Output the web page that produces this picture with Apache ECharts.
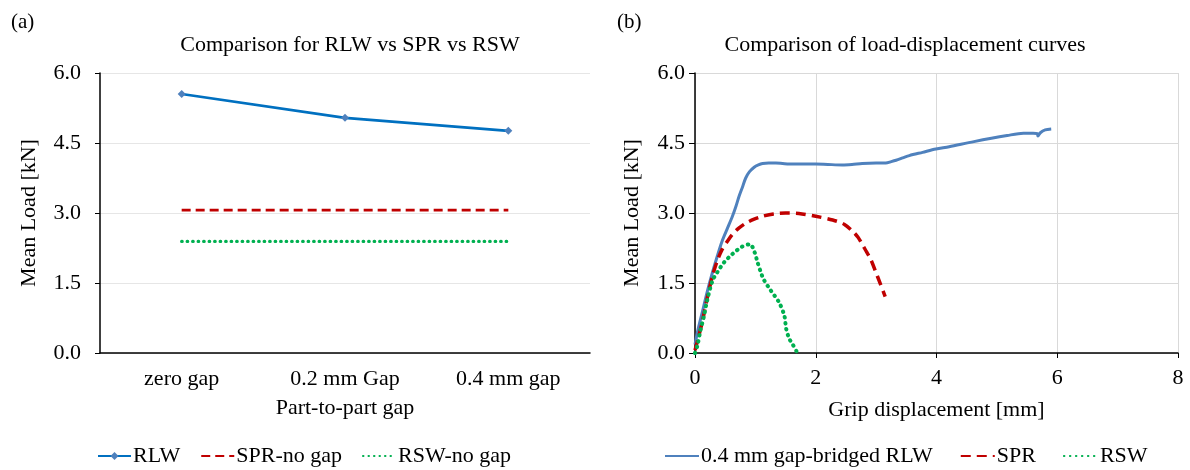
<!DOCTYPE html>
<html>
<head>
<meta charset="utf-8">
<script src="https://cdn.jsdelivr.net/npm/echarts@6/dist/echarts.min.js"></script>
<style>
html,body{margin:0;padding:0;background:#fff;}
#main{width:1190px;height:470px;}
</style>
</head>
<body>
<div id="main"></div>
<script>
// (a) 间隙对比
var gapCategories = ['zero gap', '0.2 mm Gap', '0.4 mm gap'];
var rlwMean = [5.55, 5.04, 4.76];
var sprNoGap = [3.06, 3.06, 3.06];
var rswNoGap = [2.39, 2.39, 2.39];
var loadTicks = [0, 1.5, 3.0, 4.5, 6.0];

// (b) 载荷-位移曲线
var rlwX = [0, 0.05, 0.12, 0.2, 0.29, 0.37, 0.45, 0.54, 0.62, 0.68, 0.73, 0.79, 0.84, 0.9, 0.98, 1.05, 1.12, 1.22, 1.34, 1.45, 1.56, 1.8, 2.0, 2.2, 2.44, 2.6, 2.77, 3.0, 3.16, 3.25, 3.33, 3.44, 3.55, 3.77, 3.99, 4.21, 4.62, 5.17, 5.44, 5.6, 5.67, 5.68, 5.72, 5.8, 5.9];
var rlwY = [0.18, 0.5, 0.87, 1.3, 1.73, 2.08, 2.4, 2.68, 2.93, 3.15, 3.36, 3.57, 3.75, 3.88, 3.98, 4.03, 4.06, 4.07, 4.07, 4.06, 4.05, 4.05, 4.05, 4.04, 4.03, 4.04, 4.06, 4.07, 4.07, 4.1, 4.13, 4.18, 4.23, 4.3, 4.37, 4.42, 4.53, 4.66, 4.71, 4.71, 4.7, 4.65, 4.72, 4.78, 4.8];
var sprX = [0, 0.05, 0.12, 0.2, 0.29, 0.37, 0.45, 0.54, 0.62, 0.72, 0.84, 0.98, 1.12, 1.3, 1.5, 1.72, 2.0, 2.28, 2.47, 2.61, 2.7, 2.77, 2.84, 2.91, 3.02, 3.15];
var sprY = [0.06, 0.3, 0.66, 1.16, 1.65, 1.98, 2.22, 2.4, 2.54, 2.67, 2.78, 2.87, 2.93, 2.98, 3.0, 2.99, 2.93, 2.85, 2.76, 2.61, 2.48, 2.33, 2.17, 2.01, 1.65, 1.21];
var rswX = [0, 0.04, 0.09, 0.15, 0.2, 0.29, 0.37, 0.48, 0.62, 0.78, 0.91, 0.99, 1.03, 1.09, 1.14, 1.25, 1.39, 1.48, 1.51, 1.56, 1.62, 1.68];
var rswY = [0, 0.16, 0.48, 0.8, 1.12, 1.55, 1.73, 1.94, 2.12, 2.28, 2.33, 2.15, 1.97, 1.73, 1.57, 1.35, 1.09, 0.8, 0.52, 0.31, 0.18, 0.04];
var dispTicks = [0, 2, 4, 6, 8];

function zip(xs, ys){
	var out = [];
	xs.forEach(function(x, i){ out.push([x, ys[i]]); });
	return out;
}

var font = 'Liberation Serif, Times New Roman, serif';
var fs = 22;
var txt = {fontFamily: font, color: '#000', fontSize: fs};
var noMark = {color: 'rgba(0,0,0,0)', borderColor: 'rgba(0,0,0,0)', borderWidth: 0};//图例中不画圆点

var myChart = echarts.init(document.getElementById('main'));
var option = {
	backgroundColor: '#fff',
	animation: false,
	textStyle: {fontFamily: font},
	title: [
		{text: '(a)', left: 6, top: 7, textStyle: {fontFamily: font, fontSize: 21, fontWeight: 'normal', color: '#000'}},
		{text: '(b)', left: 612, top: 7, textStyle: {fontFamily: font, fontSize: 21, fontWeight: 'normal', color: '#000'}},
		{text: 'Comparison for RLW vs SPR vs RSW', left: 345, top: 29, textAlign: 'center', textStyle: {fontFamily: font, fontSize: fs, fontWeight: 'normal', color: '#000'}},
		{text: 'Comparison of load-displacement curves', left: 900, top: 29, textAlign: 'center', textStyle: {fontFamily: font, fontSize: fs, fontWeight: 'normal', color: '#000'}}
	],
	legend: [
		{
			left: 92, top: 440, itemWidth: 33, itemHeight: 10, itemGap: 20,
			textStyle: {fontFamily: font, fontSize: fs, color: '#000', padding: [0, 0, 0, -3]},
			data: [
				{name: 'RLW'},
				{name: 'SPR-no gap', itemStyle: noMark},
				{name: 'RSW-no gap', itemStyle: noMark}
			]
		},
		{
			left: 659, top: 440, itemWidth: 34, itemHeight: 10, itemGap: 27,
			textStyle: {fontFamily: font, fontSize: fs, color: '#000', padding: [0, 0, 0, -3]},
			data: [
				{name: '0.4 mm gap-bridged RLW', itemStyle: noMark},
				{name: 'SPR', itemStyle: noMark},
				{name: 'RSW', itemStyle: noMark}
			]
		}
	],
	grid: [
		{left: 100, right: 600, top: 73, bottom: 117},
		{left: 695, right: 12, top: 73, bottom: 117}
	],
	xAxis: [
		{
			gridIndex: 0, type: 'category', data: gapCategories,
			name: 'Part-to-part gap', nameLocation: 'middle', nameGap: 44,
			nameTextStyle: txt,
			axisLine: {lineStyle: {color: '#000', width: 1.5}},
			axisTick: {alignWithLabel: true, length: 5, lineStyle: {color: '#000'}},
			axisLabel: Object.assign({margin: 15}, txt),
			splitLine: {show: false}
		},
		{
			gridIndex: 1, type: 'value', min: 0, max: 8, interval: 2,
			name: 'Grip displacement [mm]', nameLocation: 'middle', nameGap: 46,
			nameTextStyle: txt,
			axisLine: {onZero: false, lineStyle: {color: '#000', width: 1.5}},
			axisTick: {show: true, length: 5, lineStyle: {color: '#000'}},
			axisLabel: Object.assign({margin: 14, formatter: function(v){ return dispTicks.indexOf(v) >= 0 ? String(v) : ''; }}, txt),
			splitLine: {show: true, lineStyle: {color: '#d9d9d9', width: 1}}
		}
	],
	yAxis: [
		{
			gridIndex: 0, type: 'value', min: 0, max: 6, interval: 1.5,
			name: 'Mean Load [kN]', nameLocation: 'middle', nameGap: 60,
			nameTextStyle: txt,
			axisLine: {show: true, lineStyle: {color: '#000', width: 1.5}},
			axisTick: {show: true, length: 5, lineStyle: {color: '#000'}},
			axisLabel: Object.assign({margin: 19, formatter: function(v){ return v.toFixed(1); }}, txt),
			splitLine: {show: true, lineStyle: {color: '#e6e6e6', width: 1}}
		},
		{
			gridIndex: 1, type: 'value', min: 0, max: 6, interval: 1.5,
			name: 'Mean Load [kN]', nameLocation: 'middle', nameGap: 52,
			nameTextStyle: txt,
			axisLine: {show: true, lineStyle: {color: '#000', width: 1.5}},
			axisTick: {show: true, length: 6, lineStyle: {color: '#000'}},
			axisLabel: Object.assign({margin: 10, formatter: function(v){ return v.toFixed(1); }}, txt),
			splitLine: {show: true, lineStyle: {color: '#d9d9d9', width: 1}}
		}
	],
	series: [
		{
			name: 'RLW', type: 'line', xAxisIndex: 0, yAxisIndex: 0, data: rlwMean,
			symbol: 'diamond', symbolSize: 8, color: '#0070c0',
			lineStyle: {width: 2.75, color: '#0070c0'}, itemStyle: {color: '#4f81bd'}
		},
		{
			name: 'SPR-no gap', type: 'line', xAxisIndex: 0, yAxisIndex: 0, data: sprNoGap,
			symbol: 'none', color: '#c00000',
			lineStyle: {width: 2.75, color: '#c00000', type: [9, 5]}
		},
		{
			name: 'RSW-no gap', type: 'line', xAxisIndex: 0, yAxisIndex: 0, data: rswNoGap,
			symbol: 'none', color: '#00b050',
			lineStyle: {width: 3.25, color: '#00b050', type: [0.5, 5], cap: 'round'}
		},
		{
			name: '0.4 mm gap-bridged RLW', type: 'line', xAxisIndex: 1, yAxisIndex: 1, data: zip(rlwX, rlwY),
			symbol: 'none', smooth: 0.3, color: '#4f81bd',
			lineStyle: {width: 3, color: '#4f81bd'}
		},
		{
			name: 'SPR', type: 'line', xAxisIndex: 1, yAxisIndex: 1, data: zip(sprX, sprY),
			symbol: 'none', smooth: 0.3, color: '#c00000',
			lineStyle: {width: 3.5, color: '#c00000', type: [10, 6]}
		},
		{
			name: 'RSW', type: 'line', xAxisIndex: 1, yAxisIndex: 1, data: zip(rswX, rswY),
			symbol: 'none', smooth: 0.3, color: '#00b050',
			lineStyle: {width: 4, color: '#00b050', type: [0.5, 5.5], cap: 'round'}
		}
	]
};
myChart.setOption(option);
window.addEventListener('resize', function(){ myChart.resize(); });
</script>
</body>
</html>
